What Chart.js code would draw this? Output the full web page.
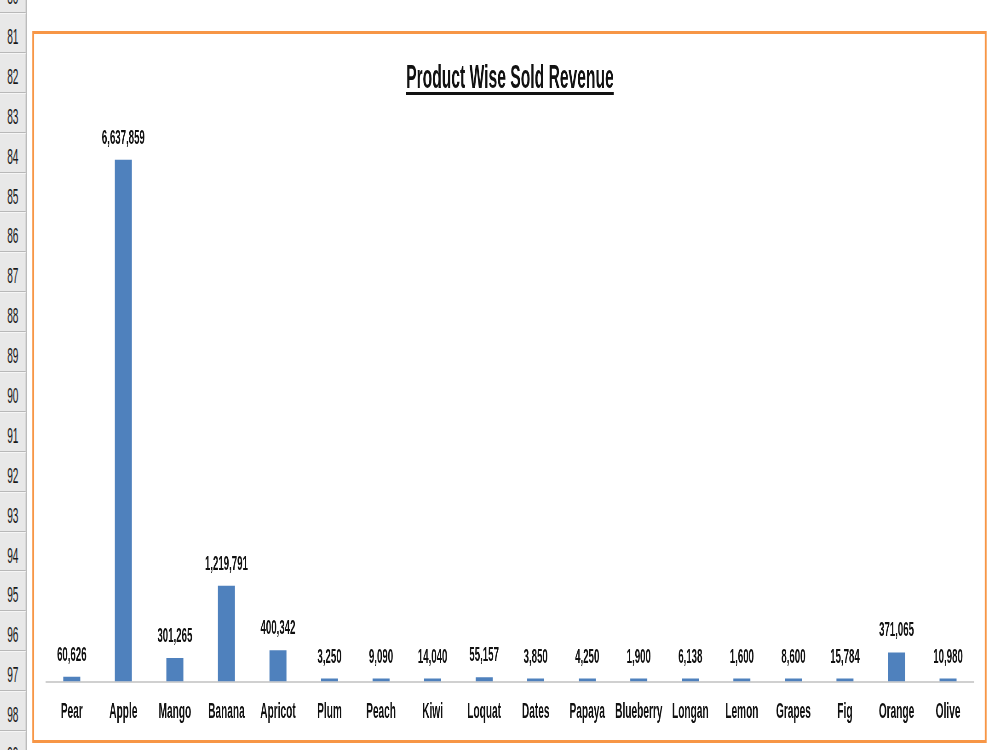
<!DOCTYPE html>
<html lang="en">
<head>
<meta charset="UTF-8">
<title>Product Wise Sold Revenue</title>
<script src="https://cdn.jsdelivr.net/npm/chart.js"></script>
<style>
  html, body { margin: 0; padding: 0; background: #fff; overflow: hidden; }
  body { width: 1000px; height: 750px; position: relative; }
  /* the source screenshot is squeezed sideways, so the whole sheet is drawn wide and scaled */
  .sheet {
    position: absolute; left: 0; top: 0;
    width: 2174px; height: 750px;
    transform: scaleX(0.46); transform-origin: 0 0;
    font-family: 'Liberation Sans', Arial, sans-serif;
  }
  .rows {
    position: absolute; left: 0; top: -26.9px; width: 56px;
    background: #e8e8e8; border-right: 2px solid #a8a8a8;
  }
  .rows div {
    box-sizing: border-box; height: 39.9px; line-height: 40px; padding-top: 3px;
    border-bottom: 1px solid #b8b8b8; border-top: 1px solid #f6f6f6;
    text-align: center; font-size: 22px; color: #1a1a1a;
  }
  .frame {
    position: absolute; left: 69.5px; top: 31px;
    width: 2067px; height: 706px;
    border: 3px solid #f79646; border-left-width: 4.4px; border-right-width: 4.4px;
    background: #fff;
  }
  #chartBox { position: absolute; left: 0; top: 0; width: 2067px; height: 708px; }
</style>
</head>
<body>
<div class="sheet">
  <div class="rows" id="rows"></div>
  <div class="frame">
    <div id="chartBox"><canvas id="revenueChart"></canvas></div>
  </div>
</div>

<script>
  const rowNumbers = [80, 81, 82, 83, 84, 85, 86, 87, 88, 89, 90, 91, 92, 93, 94, 95, 96, 97, 98, 99];
  const products = ['Pear', 'Apple', 'Mango', 'Banana', 'Apricot', 'Plum', 'Peach', 'Kiwi', 'Loquat',
    'Dates', 'Papaya', 'Blueberry', 'Longan', 'Lemon', 'Grapes', 'Fig', 'Orange', 'Olive'];
  const revenue = [60626, 6637859, 301265, 1219791, 400342, 3250, 9090, 14040, 55157,
    3850, 4250, 1900, 6138, 1600, 8600, 15784, 371065, 10980];
  const yMax = 7000000;

  const FONT = "'Liberation Sans', Arial, sans-serif";
  const titleText = 'Product Wise Sold Revenue';
  const titleSize = 34;
  const titlePad = { top: 24.6, bottom: 32 };

  // spreadsheet row headers
  const rowsEl = document.getElementById('rows');
  rowNumbers.forEach(n => {
    const d = document.createElement('div');
    d.textContent = n;
    rowsEl.appendChild(d);
  });

  // value labels above each bar
  const barLabels = {
    id: 'barLabels',
    afterDatasetsDraw(chart) {
      const ctx = chart.ctx;
      const meta = chart.getDatasetMeta(0);
      ctx.save();
      ctx.font = 'bold 21px ' + FONT;
      ctx.fillStyle = '#111';
      ctx.textAlign = 'center';
      ctx.textBaseline = 'alphabetic';
      meta.data.forEach((bar, i) => {
        ctx.fillText(revenue[i].toLocaleString('en-US'), bar.x, bar.y - 16);
      });
      ctx.restore();
    }
  };

  // Excel-style underline under the title
  const titleUnderline = {
    id: 'titleUnderline',
    afterDraw(chart) {
      const tb = chart.titleBlock;
      if (!tb) return;
      const ctx = chart.ctx;
      ctx.save();
      ctx.font = 'bold ' + titleSize + 'px ' + FONT;
      const w = ctx.measureText(titleText).width;
      const cx = (tb.left + tb.right) / 2;
      const cy = tb.top + titlePad.top + titleSize * 1.2 / 2;
      ctx.fillStyle = '#111';
      ctx.fillRect(cx - w / 2, cy + 13, w, 3);
      ctx.restore();
    }
  };

  new Chart(document.getElementById('revenueChart'), {
    type: 'bar',
    data: {
      labels: products,
      datasets: [{
        data: revenue,
        backgroundColor: '#4f81bd',
        borderWidth: 0,
        barPercentage: 0.33,
        categoryPercentage: 1,
        minBarLength: 3
      }]
    },
    options: {
      responsive: true,
      maintainAspectRatio: false,
      animation: false,
      layout: { padding: { left: 26, right: 24, top: 0, bottom: 0 } },
      plugins: {
        legend: { display: false },
        tooltip: { enabled: false },
        title: {
          display: true,
          text: titleText,
          color: '#111',
          font: { family: FONT, size: titleSize, weight: 'bold', lineHeight: 1.2 },
          padding: titlePad
        }
      },
      scales: {
        x: {
          grid: { display: true, drawOnChartArea: false, drawTicks: false, color: 'rgba(0,0,0,0)' },
          border: { display: true, color: '#d0d0d0', width: 2 },
          ticks: {
            color: '#111',
            autoSkip: false,
            maxRotation: 0,
            padding: 17,
            font: { family: FONT, size: 22, weight: 'bold' }
          }
        },
        y: { display: false, min: 0, max: yMax }
      }
    },
    plugins: [barLabels, titleUnderline]
  });
</script>
</body>
</html>
